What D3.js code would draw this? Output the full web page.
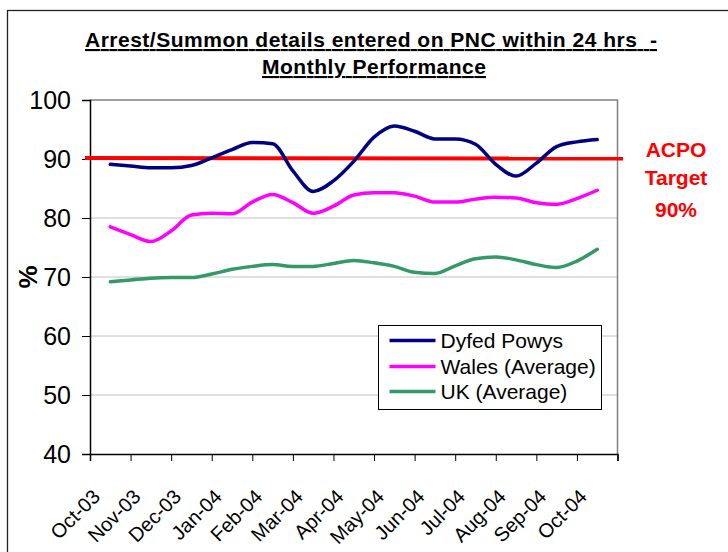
<!DOCTYPE html>
<html lang="en">
<head>
    <meta charset="UTF-8">
    <title>Arrest/Summon details - Monthly Performance</title>
    <script src="https://d3js.org/d3.v7.min.js"></script>
    <style>
        body { margin: 0; background: #fff; }
        svg { display: block; font-family: "Liberation Sans", Arial, sans-serif; }
    </style>
</head>
<body>
    <div id="chart"></div>
    <script>
        const width = 728;
        const height = 552;

        // month categories on the x axis
        const months = ["Oct-03", "Nov-03", "Dec-03", "Jan-04", "Feb-04", "Mar-04", "Apr-04",
                        "May-04", "Jun-04", "Jul-04", "Aug-04", "Sep-04", "Oct-04"];
        // readings taken twice a month (start and middle of each month)
        const dyfedPowys = [89.1, 88.8, 88.5, 88.5, 88.9, 90.2, 91.6, 92.8, 92.6, 88.0, 84.5, 86.3, 89.6,
                            93.7, 95.6, 94.7, 93.4, 93.4, 92.5, 89.1, 87.1, 89.3, 92.1, 92.9, 93.3];
        const walesAvg   = [78.5, 77.2, 76.0, 77.8, 80.5, 80.8, 80.7, 82.7, 84.0, 82.6, 80.8, 82.0, 83.9,
                            84.3, 84.3, 83.7, 82.7, 82.7, 83.2, 83.5, 83.4, 82.6, 82.3, 83.3, 84.7];
        const ukAvg      = [69.2, 69.5, 69.8, 69.9, 69.9, 70.5, 71.3, 71.8, 72.1, 71.8, 71.8, 72.3, 72.8,
                            72.4, 71.8, 70.8, 70.6, 71.9, 73.1, 73.4, 72.9, 72.1, 71.6, 72.7, 74.7];
        const yTicks = [40, 50, 60, 70, 80, 90, 100];
        const target = 90;

        const seriesNames = ["Dyfed Powys", "Wales (Average)", "UK (Average)"];
        const seriesColors = ["#000080", "#ff00ff", "#339966"];
        const series = [dyfedPowys, walesAvg, ukAvg];

        const plot = { left: 90, right: 617.5, top: 100, bottom: 454 };

        const svg = d3.select('#chart')
            .append('svg')
            .attr('width', width)
            .attr('height', height);

        // outer chart border (runs off the right and bottom of the picture)
        svg.append('rect')
            .attr('x', 7.5).attr('y', 10.5)
            .attr('width', 800).attr('height', 700)
            .attr('fill', '#fff')
            .attr('stroke', '#222')
            .attr('stroke-width', 1.3);

        // x in month units, categories sit between the tick marks
        const x = d3.scaleLinear()
            .domain([-0.5, months.length - 0.5])
            .range([plot.left, plot.right]);

        const y = d3.scaleLinear()
            .domain([40, 100])
            .range([plot.bottom, plot.top]);

        // gridlines
        svg.append('g')
            .selectAll('line')
            .data(yTicks.filter(t => t > 40 && t < 100))
            .enter().append('line')
            .attr('x1', plot.left).attr('x2', plot.right)
            .attr('y1', d => y(d)).attr('y2', d => y(d))
            .attr('stroke', '#c0c0c0')
            .attr('stroke-width', 1);

        // plot area top and right edges
        svg.append('path')
            .attr('d', `M${plot.left},${plot.top}H${plot.right}V${plot.bottom}`)
            .attr('fill', 'none')
            .attr('stroke', '#808080')
            .attr('stroke-width', 1.5);

        // y axis
        const yAxis = svg.append('g')
            .attr('transform', `translate(${plot.left},0)`)
            .call(d3.axisLeft(y).tickValues(yTicks).tickSize(8).tickPadding(11));
        yAxis.select('.domain').attr('stroke', '#000').attr('stroke-width', 1.5);
        yAxis.selectAll('.tick line').attr('stroke', '#000');
        yAxis.selectAll('.tick text')
            .attr('font-size', 25)
            .attr('fill', '#000')
            .attr('font-family', '"Liberation Sans", Arial, sans-serif');

        // x axis: tick marks on the month boundaries
        const xAxis = svg.append('g')
            .attr('transform', `translate(0,${plot.bottom})`)
            .call(d3.axisBottom(x)
                .tickValues(d3.range(-0.5, months.length, 1))
                .tickSize(7)
                .tickFormat(''));
        xAxis.select('.domain').attr('stroke', '#000').attr('stroke-width', 1.5);
        xAxis.selectAll('.tick line').attr('stroke', '#000');

        // rotated month labels
        svg.append('g')
            .selectAll('text')
            .data(months)
            .enter().append('text')
            .attr('transform', (d, i) => `translate(${x(i) - 9},${plot.bottom + 44}) rotate(-45)`)
            .attr('text-anchor', 'end')
            .attr('font-size', 20)
            .attr('fill', '#000')
            .text(d => d);

        // axis title
        svg.append('text')
            .attr('transform', `translate(37,${(plot.top + plot.bottom) / 2}) rotate(-90)`)
            .attr('text-anchor', 'middle')
            .attr('font-size', 26)
            .attr('font-weight', 'bold')
            .text('%');

        // target line
        svg.append('line')
            .attr('x1', 85).attr('x2', 623)
            .attr('y1', y(target) - 1).attr('y2', y(target) - 0.5)
            .attr('stroke', '#ff0000')
            .attr('stroke-width', 4);

        // series lines
        const line = d3.line()
            .x((d, i) => x(i / 2))
            .y(d => y(d))
            .curve(d3.curveMonotoneX);

        svg.append('g')
            .selectAll('path')
            .data(series)
            .enter().append('path')
            .attr('d', d => line(d))
            .attr('fill', 'none')
            .attr('stroke', (d, i) => seriesColors[i])
            .attr('stroke-width', 3.5)
            .attr('stroke-linejoin', 'round')
            .attr('stroke-linecap', 'round');

        // title
        const title = svg.append('g')
            .attr('font-size', 21)
            .attr('font-weight', 'bold')
            .attr('text-decoration', 'underline')
            .attr('text-anchor', 'middle');
        title.append('text')
            .attr('x', 371).attr('y', 47)
            .attr('textLength', 572)
            .attr('lengthAdjust', 'spacing')
            .style('white-space', 'pre')
            .text('Arrest/Summon details entered on PNC within 24 hrs  -');
        title.append('text')
            .attr('x', 374).attr('y', 74)
            .attr('textLength', 224)
            .attr('lengthAdjust', 'spacing')
            .text('Monthly Performance');

        // target note
        const note = svg.append('g')
            .attr('font-size', 21)
            .attr('font-weight', 'bold')
            .attr('fill', '#ff0000')
            .attr('text-anchor', 'middle');
        ['ACPO', 'Target', target + '%'].forEach((t, i) => {
            note.append('text')
                .attr('x', 676)
                .attr('y', [157, 185, 217][i])
                .text(t);
        });

        // legend
        const legend = svg.append('g').attr('transform', 'translate(378.5,325.5)');
        legend.append('rect')
            .attr('width', 223).attr('height', 84)
            .attr('fill', '#fff')
            .attr('stroke', '#000')
            .attr('stroke-width', 1);
        const rows = legend.selectAll('g.row')
            .data(seriesNames)
            .enter().append('g')
            .attr('class', 'row')
            .attr('transform', (d, i) => `translate(0,${[15, 41, 66][i]})`);
        rows.append('line')
            .attr('x1', 11).attr('x2', 57)
            .attr('stroke', (d, i) => seriesColors[i])
            .attr('stroke-width', 3.5);
        rows.append('text')
            .attr('x', 62)
            .attr('dy', '0.36em')
            .attr('font-size', 21)
            .attr('fill', '#000')
            .text(d => d);
    </script>
</body>
</html>
